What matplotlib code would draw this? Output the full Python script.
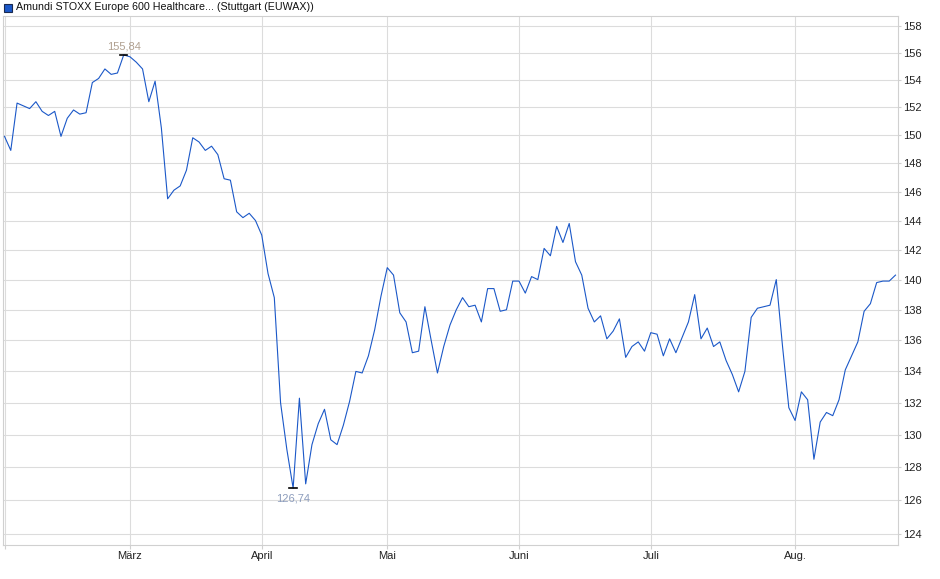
import numpy as np
import matplotlib.pyplot as plt
from matplotlib.ticker import FixedLocator, FuncFormatter, NullLocator

plt.rcParams['font.family'] = ['Liberation Sans', 'DejaVu Sans']

# daily closing prices (trading days, Feb - Aug)
prices = [149.9, 148.9, 152.3, 152.1, 151.9, 152.4, 151.7, 151.4, 151.7, 149.9,
          151.2, 151.8, 151.5, 151.6, 153.8, 154.1, 154.8, 154.4, 154.5, 155.84,
          155.7, 155.3, 154.8, 152.4, 153.9, 150.5, 145.5, 146.1, 146.4, 147.5,
          149.8, 149.5, 148.9, 149.2, 148.6, 146.9, 146.8, 144.6, 144.2, 144.5,
          144.0, 143.0, 140.4, 138.8, 132.0, 129.1, 126.74, 132.3, 127.0, 129.4,
          130.7, 131.6, 129.7, 129.4, 130.6, 132.1, 134.0, 133.9, 135.0, 136.7,
          138.9, 140.8, 140.3, 137.8, 137.2, 135.2, 135.3, 138.2, 136.0, 133.9,
          135.6, 137.0, 138.0, 138.8, 138.2, 138.3, 137.2, 139.4, 139.4, 137.9,
          138.0, 139.9, 139.9, 139.1, 140.2, 140.0, 142.1, 141.6, 143.6, 142.5,
          143.8, 141.2, 140.3, 138.1, 137.2, 137.6, 136.1, 136.6, 137.4, 134.9,
          135.6, 135.9, 135.3, 136.5, 136.4, 135.0, 136.1, 135.2, 136.2, 137.2,
          139.0, 136.1, 136.8, 135.6, 135.9, 134.7, 133.8, 132.7, 134.0, 137.5,
          138.1, 138.2, 138.3, 140.0, 135.6, 131.7, 130.9, 132.7, 132.2, 128.5,
          130.8, 131.4, 131.2, 132.2, 134.1, 135.0, 135.9, 137.9, 138.4, 139.8,
          139.9, 139.9, 140.3]

# first trading day of each month (index into prices)
month_pos = [0, 20, 41, 61, 82, 103, 126]
month_labels = ['', 'März', 'April', 'Mai', 'Juni', 'Juli', 'Aug.']
y_ticks = list(range(124, 159, 2))

x = np.arange(len(prices))
p = np.array(prices)

fig = plt.figure(figsize=(9.4, 5.79), dpi=100)
ax = fig.add_axes([3/940, 34/579, 895/940, 529/579])

ax.plot(x, p, color='#1b58c8', lw=0.8, zorder=3)

ax.set_yscale('log')
ax.set_ylim(123.35, 158.76)
ax.set_xlim(-0.24, 142.4)
ax.yaxis.set_major_locator(FixedLocator(y_ticks))
ax.yaxis.set_minor_locator(NullLocator())
ax.yaxis.set_major_formatter(FuncFormatter(lambda v, _: '%d' % round(v)))
ax.yaxis.tick_right()
ax.set_xticks(month_pos)
ax.set_xticklabels(month_labels)
ax.xaxis.set_minor_locator(NullLocator())

ax.grid(True, color='#dcdcdc', lw=0.8, zorder=0)
for s in ax.spines.values():
    s.set_color('#d0d0d0')
    s.set_linewidth(0.8)
ax.tick_params(axis='y', length=2, width=0.8, color='#d0d0d0', pad=1.5,
               labelsize=8, labelcolor='#222222')
ax.tick_params(axis='x', length=3, width=0.8, color='#d0d0d0', pad=1,
               labelsize=8, labelcolor='#222222')

# high / low markers
imax = int(np.argmax(p))
imin = int(np.argmin(p))
ax.plot([imax - 0.6, imax + 0.6], [p[imax], p[imax]], color='black', lw=1.2, zorder=4)
ax.annotate(('%.2f' % p[imax]).replace('.', ','), (imax, p[imax]),
            xytext=(0, 2.5), textcoords='offset points', ha='center', va='bottom',
            fontsize=8, color='#b0a090')
ax.plot([imin - 0.6, imin + 0.6], [p[imin], p[imin]], color='black', lw=1.2, zorder=4)
ax.annotate(('%.2f' % p[imin]).replace('.', ','), (imin, p[imin]),
            xytext=(0, -3.5), textcoords='offset points', ha='center', va='top',
            fontsize=8, color='#8c9cbc')

# legend-like title
fig.patches.append(plt.Rectangle((4/940, 1 - 12/579), 8/940, 8/579,
                                 transform=fig.transFigure, facecolor='#1b58c8',
                                 edgecolor='#1a2a50', lw=0.8))
fig.text(16/940, 1 - 7.5/579,
         'Amundi STOXX Europe 600 Healthcare... (Stuttgart (EUWAX))',
         fontsize=7.7, color='#111111', va='center', ha='left')

fig.savefig('out.png', dpi=100)
